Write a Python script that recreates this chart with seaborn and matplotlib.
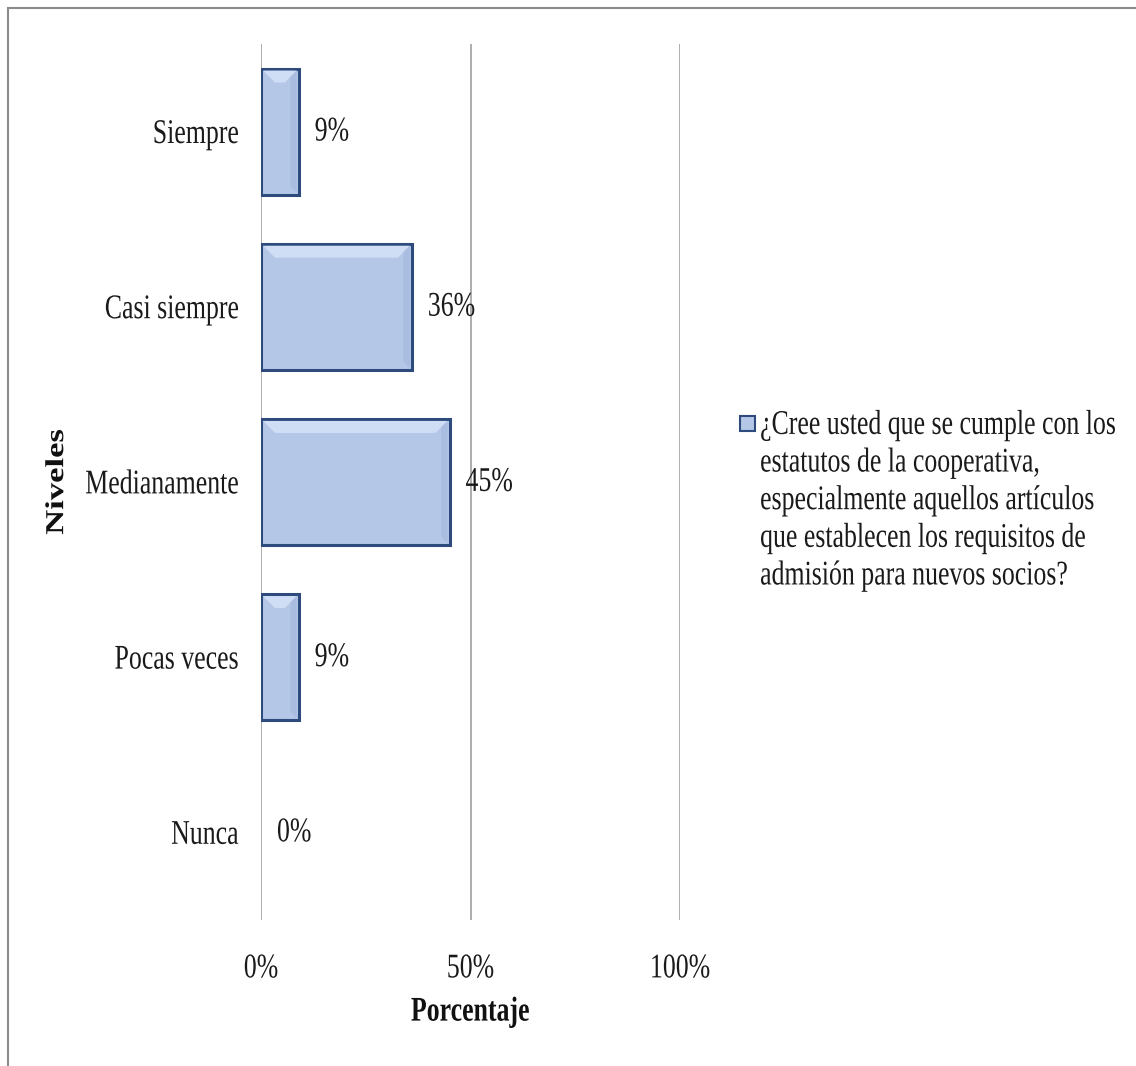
import matplotlib
matplotlib.use("Agg")
import matplotlib.pyplot as plt
import seaborn as sns
import pandas as pd
from matplotlib.patches import Rectangle, Polygon
from matplotlib.legend_handler import HandlerPatch
from matplotlib.ticker import FuncFormatter
from matplotlib.patheffects import AbstractPathEffect
from matplotlib.transforms import Affine2D

# Survey answers and their share of respondents (%)
niveles = ["Siempre", "Casi siempre", "Medianamente", "Pocas veces", "Nunca"]
porcentajes = [9, 36, 45, 9, 0]
etiquetas = ["9%", "36%", "45%", "9%", "0%"]
ticks_x = [0, 50, 100]
serie = ("¿Cree usted que se cumple con los\n"
         "estatutos de la cooperativa,\n"
         "especialmente aquellos artículos\n"
         "que establecen los requisitos de\n"
         "admisión para nuevos socios?")

sns.set_theme(style="white")
plt.rcParams["font.family"] = ["Liberation Serif", "DejaVu Serif"]

FILL = "#B4C7E7"
EDGE = "#2F4B7E"
LIGHT = "#CFDDF5"
FS = 18.6          # size of the horizontal lettering
TALL = 1.34        # vertical stretch giving the tall, narrow letter shapes
FS_ROT = FS * TALL # rotated axis title
LINE_PT = 27.36    # legend baseline-to-baseline distance in points


class Stretch(AbstractPathEffect):
    """Scale text glyphs: sy about a line 1/3 em above the baseline,
    sx about the horizontal centre of the glyph run."""

    def __init__(self, sx=1.0, sy=1.0):
        super().__init__()
        self.sx = sx
        self.sy = sy

    def draw_path(self, renderer, gc, tpath, affine, rgbFace=None):
        ext = affine.transform_path(tpath).get_extents()
        cx = 0.5 * (ext.x0 + ext.x1)
        cy = affine.transform((0, 33))[1]
        scale = (Affine2D().translate(-cx, -cy)
                 .scale(self.sx, self.sy).translate(cx, cy))
        renderer.draw_path(gc, tpath, affine + scale, rgbFace)


tall = [Stretch(sy=TALL)]

W, H = 1136, 1066
fig = plt.figure(figsize=(W / 100, H / 100), dpi=100)
ax = fig.add_axes([261 / W, 146 / H, 419 / W, 876 / H])

df = pd.DataFrame({"Niveles": niveles, "Porcentaje": porcentajes})
sns.barplot(data=df, y="Niveles", x="Porcentaje", order=niveles, orient="h",
            color=FILL, edgecolor=EDGE, linewidth=2.2, width=0.72,
            saturation=1, ax=ax, label=serie, zorder=3)

ax.set_xlim(0, 100)
ax.set_ylim(len(niveles) - 0.5, -0.5)
ax.set_xticks(ticks_x)
ax.xaxis.set_major_formatter(FuncFormatter(lambda v, _: f"{v:.0f}%"))
for v in ticks_x:
    ax.axvline(v, color="#A0A0A0", lw=1.2, zorder=1)
for s in ax.spines.values():
    s.set_visible(False)
ax.tick_params(axis="both", length=0, labelsize=FS, colors="#1a1a1a")
ax.tick_params(axis="y", pad=16)
ax.tick_params(axis="x", pad=27)
for lab in ax.get_yticklabels() + ax.get_xticklabels():
    lab.set_path_effects(tall)

# bevel highlight along the top and right side of every bar
px_x = 100 / 419.0
px_y = 5 / 876.0
bars = ax.containers[0]
for b in bars:
    x0, y0, w, h = b.get_x(), b.get_y(), b.get_width(), b.get_height()
    if w <= 0:
        b.set_linewidth(0)
        continue
    ins_x, ins_y = 14 * px_x, 14 * px_y
    e_x, e_y = 2 * px_x, 2 * px_y
    top = Polygon([(x0 + e_x, y0 + e_y), (x0 + w - e_x, y0 + e_y),
                   (x0 + w - ins_x, y0 + ins_y), (x0 + ins_x, y0 + ins_y)],
                  closed=True, facecolor=LIGHT, edgecolor="none", zorder=4)
    ax.add_patch(top)
    side = Polygon([(x0 + w - e_x, y0 + e_y), (x0 + w - e_x, y0 + h - e_y),
                    (x0 + w - ins_x * 0.6, y0 + h - ins_y * 0.6),
                    (x0 + w - ins_x * 0.6, y0 + ins_y * 0.6)],
                   closed=True, facecolor="#A9BDE0", edgecolor="none", zorder=4)
    ax.add_patch(side)

value_texts = ax.bar_label(bars, labels=etiquetas, padding=11.5, fontsize=FS,
                           color="#1a1a1a", zorder=5)
for t in value_texts:
    t.set_path_effects(tall)

ax.set_xlabel("Porcentaje", fontsize=FS, fontweight="bold", color="#111111")
ax.set_ylabel("Niveles", fontsize=FS_ROT, fontweight="bold", color="#111111")
ax.xaxis.set_label_coords(0.5, -0.091)
ax.yaxis.set_label_coords(-0.446, 0.5)
ax.xaxis.label.set_path_effects(tall)
ax.yaxis.label.set_path_effects([Stretch(sx=1 / TALL)])


# legend square sits beside the first line of the wrapped label
def top_square(legend, orig_handle, xdescent, ydescent, width, height, fontsize):
    size = 11.0
    shift = height / 2 + 2 * LINE_PT - size / 2 + 0.2
    return Rectangle((width - size - xdescent, -ydescent + shift), size, size)


leg = ax.legend(handles=[bars.patches[0]], labels=[serie], loc="upper left",
                bbox_to_anchor=((742 - 261) / 419, (920 - 414) / 876),
                frameon=False, fontsize=FS, handlelength=0.5, handleheight=0.5,
                handletextpad=0.2, borderaxespad=0, borderpad=0,
                handler_map={bars.patches[0]: HandlerPatch(patch_func=top_square)})
for t in leg.get_texts():
    t.set_linespacing(1.92)
    t.set_color("#1a1a1a")
    t.set_path_effects(tall)
for hd in leg.legend_handles:
    hd.set_linewidth(1.5)

# outer frame of the chart area
fig.patches.append(Rectangle((8 / W, -0.1), 1.2, 1 - 8 / H + 0.1,
                             transform=fig.transFigure, fill=False,
                             edgecolor="#8C8C8C", lw=1.5, zorder=0))

fig.savefig("out.png", dpi=100, facecolor="white")
